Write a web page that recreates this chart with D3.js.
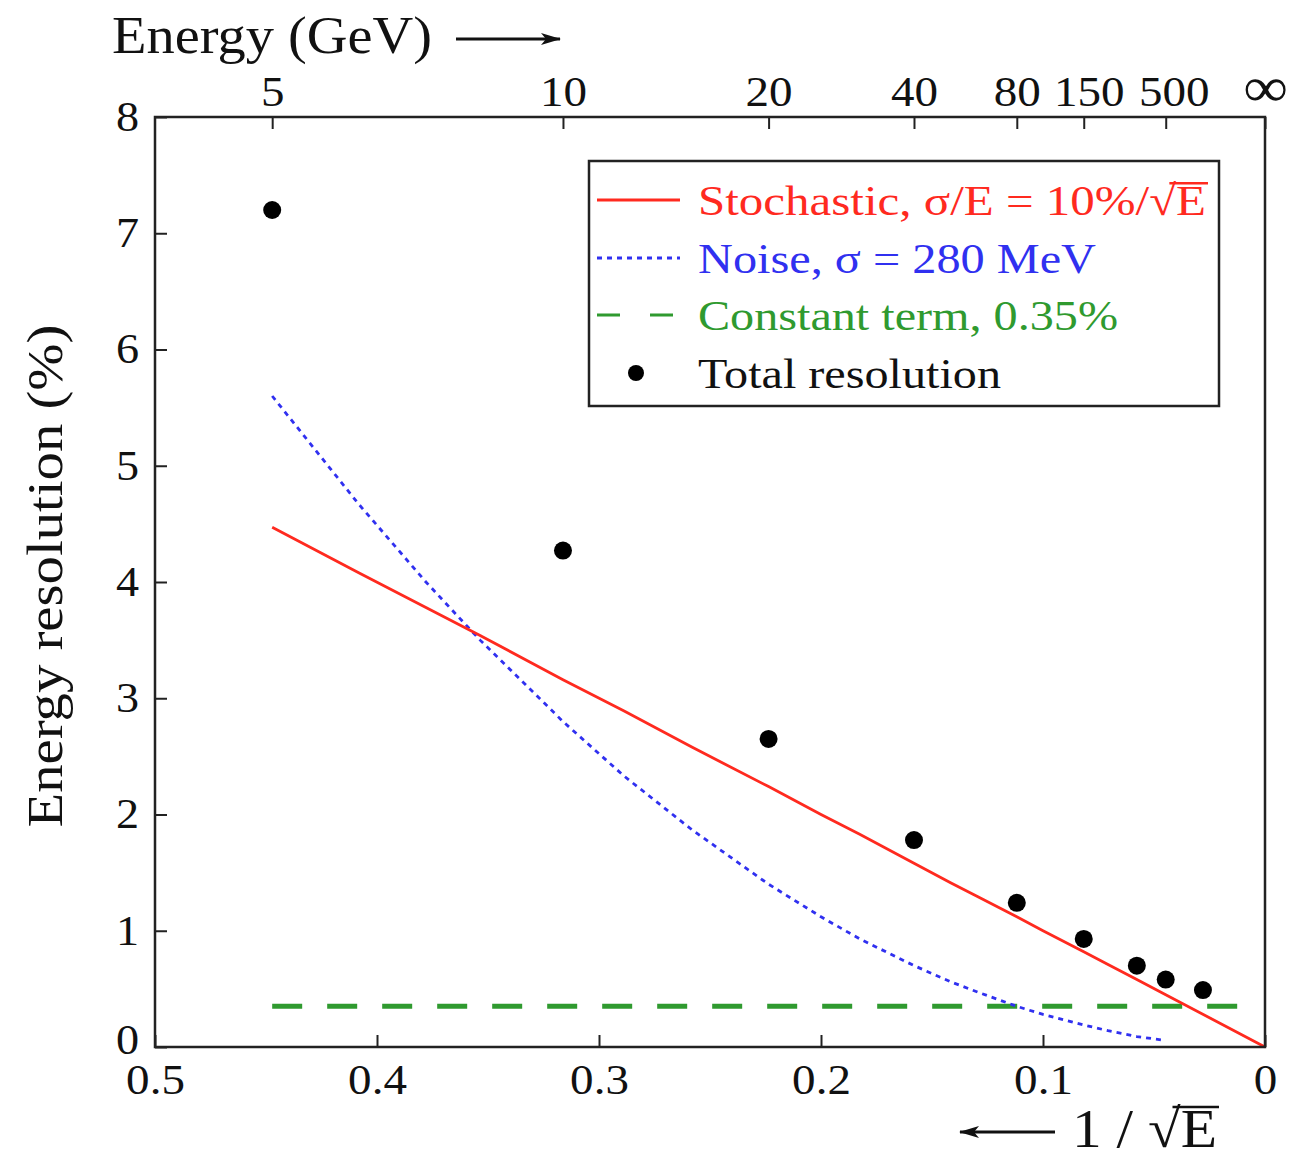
<!DOCTYPE html>
<html>
<head>
<meta charset="utf-8">
<script src="https://cdn.jsdelivr.net/npm/d3@7"></script>
<style>
  body { margin: 0; background: #fff; }
  text { font-family: "Liberation Serif", "DejaVu Serif", serif; fill: #111; }
</style>
</head>
<body>
<div id="chart"></div>
<script>
// measured points: energy (GeV) and total resolution (%)
const pointEnergies = [5, 10, 20, 40, 80, 150, 300, 500, 1280];
const pointResolution = [7.2, 4.27, 2.65, 1.78, 1.24, 0.93, 0.70, 0.58, 0.49];

// model curves, sampled along the energy range
const curveEnergies = [5, 6, 7, 8, 10, 12, 15, 20, 25, 30, 40, 50, 60, 80, 100, 150, 200, 300, 500];
const stochasticPct = [4.47, 4.08, 3.78, 3.54, 3.16, 2.89, 2.58, 2.24, 2.0, 1.83, 1.58, 1.41, 1.29, 1.12, 1.0, 0.82, 0.71, 0.58, 0.45];
const noisePct = [5.6, 4.67, 4.0, 3.5, 2.8, 2.33, 1.87, 1.4, 1.12, 0.93, 0.7, 0.56, 0.47, 0.35, 0.28, 0.19, 0.14, 0.09, 0.056];
const constantPct = 0.35;

const xTicks = [0.5, 0.4, 0.3, 0.2, 0.1, 0];
const yTicks = [0, 1, 2, 3, 4, 5, 6, 7, 8];
const topEnergies = [5, 10, 20, 40, 80, 150, 500, Infinity];

const legendLabels = ['Stochastic, σ/E = 10%/√E', 'Noise, σ = 280 MeV', 'Constant term, 0.35%', 'Total resolution'];

const width = 1295, height = 1158;
const plotL = 155, plotR = 1265, plotT = 117, plotB = 1047;

const red = '#ff2a1f', blue = '#3030f0', green = '#2f9a2f';

const svg = d3.select('#chart').append('svg')
  .attr('width', width).attr('height', height);

svg.append('defs').append('marker')
  .attr('id', 'arrow')
  .attr('viewBox', '0 0 20 12')
  .attr('refX', 19).attr('refY', 6)
  .attr('markerWidth', 20).attr('markerHeight', 12)
  .attr('markerUnits', 'userSpaceOnUse')
  .attr('orient', 'auto')
  .append('path').attr('d', 'M0,0 L20,6 L0,12 L5,6 Z').attr('fill', '#111');

const x = d3.scaleLinear().domain([0.5, 0]).range([plotL, plotR]);
const y = d3.scaleLinear().domain([0, 8]).range([plotB, plotT]);
const inv = e => 1 / Math.sqrt(e);

// the original lettering is a bit wider than Liberation Serif
function stretch(sel, k) {
  sel.each(function() {
    const len = this.getComputedTextLength();
    d3.select(this).attr('textLength', len * k).attr('lengthAdjust', 'spacingAndGlyphs');
  });
}

// axes
const bottomAxis = d3.axisBottom(x).tickValues(xTicks)
  .tickFormat(d => d === 0 ? '0' : d.toFixed(1)).tickSizeInner(-12).tickSizeOuter(0).tickPadding(17);
const leftAxis = d3.axisLeft(y).tickValues(yTicks)
  .tickFormat(d3.format('d')).tickSizeInner(-12).tickSizeOuter(0).tickPadding(16);
const topAxis = d3.axisTop(x).tickValues(topEnergies.map(inv))
  .tickFormat((d, i) => topEnergies[i] === Infinity ? '∞' : topEnergies[i]).tickSizeInner(-12).tickSizeOuter(0).tickPadding(11);

function styleAxis(g) {
  g.select('.domain').remove();
  g.selectAll('.tick line').attr('stroke', '#222').attr('stroke-width', 2);
  g.selectAll('.tick text').attr('font-size', 42).attr('fill', '#111')
    .style('font-family', '"Liberation Serif", serif');
}

svg.append('g').attr('transform', `translate(0,${plotB})`).call(bottomAxis).call(styleAxis)
  .selectAll('.tick text').call(stretch, 1.12);
svg.append('g').attr('transform', `translate(${plotL},0)`).call(leftAxis).call(styleAxis)
  .selectAll('.tick text')
  .attr('y', d => d === 0 ? -7 : 0)
  .call(stretch, 1.1);
const topG = svg.append('g').attr('transform', `translate(0,${plotT})`).call(topAxis).call(styleAxis);
topG.selectAll('.tick text')
  .attr('font-size', (d, i) => topEnergies[i] === Infinity ? 56 : 42)
  .attr('dx', (d, i) => topEnergies[i] === 500 ? 8 : topEnergies[i] === 150 ? 5 : 0)
  .call(stretch, 1.12);

// constant term
svg.append('line')
  .attr('x1', x(inv(5))).attr('x2', plotR - 4)
  .attr('y1', y(constantPct)).attr('y2', y(constantPct))
  .attr('stroke', green).attr('stroke-width', 5).attr('stroke-dasharray', '30,25');

// noise
const line = d3.line().x(d => x(d[0])).y(d => y(d[1]));
svg.append('path')
  .datum(curveEnergies.map((e, i) => [inv(e), noisePct[i]]))
  .attr('d', line).attr('fill', 'none')
  .attr('stroke', blue).attr('stroke-width', 2.8).attr('stroke-dasharray', '5,5');

// stochastic, drawn all the way to 1/sqrt(E) = 0
svg.append('path')
  .datum(curveEnergies.map((e, i) => [inv(e), stochasticPct[i]]).concat([[0, 0]]))
  .attr('d', line).attr('fill', 'none')
  .attr('stroke', red).attr('stroke-width', 2.8);

// total resolution points
svg.append('g').selectAll('circle')
  .data(pointEnergies.map((e, i) => [inv(e), pointResolution[i]]))
  .enter().append('circle')
  .attr('cx', d => x(d[0])).attr('cy', d => y(d[1])).attr('r', 9).attr('fill', '#000');

// frame
svg.append('rect')
  .attr('x', plotL).attr('y', plotT).attr('width', plotR - plotL).attr('height', plotB - plotT)
  .attr('fill', 'none').attr('stroke', '#222').attr('stroke-width', 2.5);

// legend
const lg = svg.append('g');
lg.append('rect').attr('x', 589).attr('y', 161).attr('width', 630).attr('height', 245)
  .attr('fill', '#fff').attr('stroke', '#222').attr('stroke-width', 2.5);
const rowY = [200, 258, 315, 373];
lg.append('line').attr('x1', 597).attr('x2', 680).attr('y1', rowY[0]).attr('y2', rowY[0])
  .attr('stroke', red).attr('stroke-width', 2.8);
lg.append('line').attr('x1', 597).attr('x2', 680).attr('y1', rowY[1]).attr('y2', rowY[1])
  .attr('stroke', blue).attr('stroke-width', 2.8).attr('stroke-dasharray', '5,5');
lg.append('line').attr('x1', 597).attr('x2', 680).attr('y1', rowY[2]).attr('y2', rowY[2])
  .attr('stroke', green).attr('stroke-width', 3).attr('stroke-dasharray', '23,30');
lg.append('circle').attr('cx', 636).attr('cy', rowY[3]).attr('r', 8).attr('fill', '#000');

const legendColors = [red, blue, green, '#111'];
const legendWidths = [508, 398, 420, 303];
const legendText = lg.selectAll('text.leg')
  .data(legendLabels).enter().append('text')
  .attr('class', 'leg')
  .attr('x', 698).attr('y', (d, i) => rowY[i] + 15)
  .attr('font-size', 43)
  .attr('textLength', (d, i) => legendWidths[i])
  .attr('lengthAdjust', 'spacingAndGlyphs')
  .style('fill', (d, i) => legendColors[i])
  .text(d => d);

// overline for the square root sign
function overline(textNode, fromIdx, color, fs) {
  const a = textNode.getStartPositionOfChar(fromIdx);
  const ext = textNode.getExtentOfChar(fromIdx);
  const b = textNode.getEndPositionOfChar(textNode.getNumberOfChars() - 1);
  const yy = a.y - fs * 0.74;
  d3.select(textNode.parentNode).append('line')
    .attr('x1', ext.x + ext.width * 0.75).attr('x2', b.x + 2)
    .attr('y1', yy).attr('y2', yy)
    .attr('stroke', color).attr('stroke-width', 2.4);
}
overline(legendText.nodes()[0], legendLabels[0].indexOf('√'), red, 43);

// axis titles
svg.append('text')
  .attr('transform', `translate(62,${576}) rotate(-90)`)
  .attr('text-anchor', 'middle').attr('font-size', 51)
  .attr('textLength', 503).attr('lengthAdjust', 'spacingAndGlyphs')
  .text('Energy resolution (%)');

svg.append('text').attr('x', 112).attr('y', 53).attr('font-size', 53)
  .attr('textLength', 320).attr('lengthAdjust', 'spacingAndGlyphs')
  .text('Energy (GeV)');
svg.append('line').attr('x1', 456).attr('x2', 560).attr('y1', 39).attr('y2', 39)
  .attr('stroke', '#111').attr('stroke-width', 3).attr('marker-end', 'url(#arrow)');

const bt = svg.append('g');
const btText = bt.append('text').attr('x', 1072).attr('y', 1147).attr('font-size', 54)
  .attr('textLength', 145).attr('lengthAdjust', 'spacingAndGlyphs')
  .text('1 / √E');
overline(btText.node(), 4, '#111', 54);
svg.append('line').attr('x1', 1055).attr('x2', 960).attr('y1', 1132).attr('y2', 1132)
  .attr('stroke', '#111').attr('stroke-width', 3).attr('marker-end', 'url(#arrow)');
</script>
</body>
</html>
